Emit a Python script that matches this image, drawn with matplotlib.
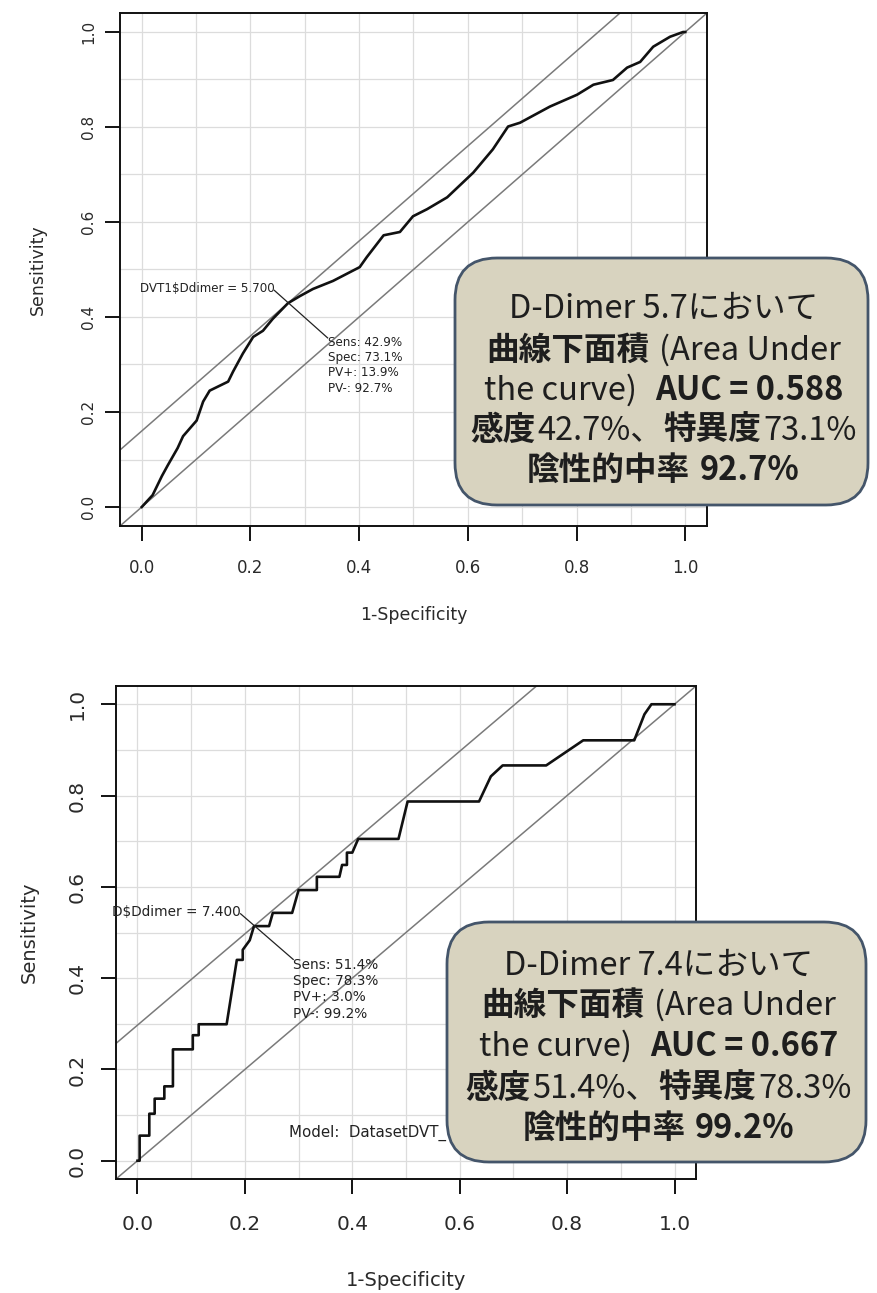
import matplotlib
matplotlib.use("Agg")
import numpy as np
import matplotlib.pyplot as plt
from matplotlib.patches import FancyBboxPatch
from matplotlib.transforms import IdentityTransform

# ROC 1 (D-Dimer, DVT1)
roc1_fpr = [0, 0.020, 0.037, 0.048, 0.066, 0.076, 0.101, 0.113, 0.125, 0.159, 0.168,
            0.186, 0.205, 0.223, 0.241, 0.269, 0.291, 0.315, 0.352, 0.401, 0.414,
            0.445, 0.475, 0.499, 0.525, 0.562, 0.610, 0.646, 0.674, 0.696, 0.751,
            0.801, 0.831, 0.867, 0.893, 0.917, 0.941, 0.972, 0.996, 1.0]
roc1_tpr = [0, 0.025, 0.065, 0.088, 0.124, 0.149, 0.182, 0.222, 0.245, 0.264, 0.285,
            0.323, 0.358, 0.371, 0.396, 0.429, 0.444, 0.459, 0.476, 0.505, 0.526,
            0.572, 0.579, 0.612, 0.627, 0.652, 0.704, 0.753, 0.801, 0.809, 0.843,
            0.868, 0.889, 0.899, 0.925, 0.937, 0.969, 0.990, 1.0, 1.0]
roc1_sens, roc1_spec = 0.429, 0.731
roc1_cut = "DVT1$Ddimer = 5.700"
roc1_stats = "Sens: 42.9%\nSpec: 73.1%\nPV+: 13.9%\nPV-: 92.7%"
roc1_hidden = "Area under the curve: 0.588"

# ROC 2 (D-Dimer, DatasetDVT_D)
roc2_fpr = [0, 0.004, 0.004, 0.022, 0.022, 0.032, 0.032, 0.050, 0.050, 0.066, 0.066,
            0.103, 0.103, 0.114, 0.114, 0.166, 0.185, 0.196, 0.196, 0.209, 0.217,
            0.245, 0.252, 0.288, 0.300, 0.334, 0.334, 0.376, 0.381, 0.390, 0.390,
            0.400, 0.411, 0.486, 0.503, 0.636, 0.658, 0.680, 0.761, 0.830, 0.925,
            0.944, 0.957, 1.0]
roc2_tpr = [0, 0, 0.055, 0.055, 0.103, 0.103, 0.136, 0.136, 0.163, 0.163, 0.244,
            0.244, 0.275, 0.275, 0.299, 0.299, 0.440, 0.440, 0.462, 0.483, 0.514,
            0.514, 0.543, 0.543, 0.593, 0.593, 0.622, 0.622, 0.648, 0.648, 0.675,
            0.675, 0.705, 0.705, 0.787, 0.787, 0.842, 0.866, 0.866, 0.921, 0.921,
            0.978, 1.0, 1.0]
roc2_sens, roc2_spec = 0.514, 0.783
roc2_cut = "D$Ddimer = 7.400"
roc2_stats = "Sens: 51.4%\nSpec: 78.3%\nPV+: 3.0%\nPV-: 99.2%"
roc2_model = "Model:  DatasetDVT_"

ticks = [0.0, 0.2, 0.4, 0.6, 0.8, 1.0]
tick_labels = ["0.0", "0.2", "0.4", "0.6", "0.8", "1.0"]

# text in the callout boxes: (text, bold, gap before in em)
box1_lines = [
    [("D-Dimer 5.7において", False, 0)],
    [("曲線下面積", True, 0), ("(Area Under", False, 0.3)],
    [("the curve)", False, 0), ("AUC = 0.588", True, 0.55)],
    [("感度", True, 0), ("42.7%、", False, 0.06), ("特異度", True, 0.0), ("73.1%", False, 0.06)],
    [("陰性的中率", True, 0), ("92.7%", True, 0.3)],
]
box2_lines = [
    [("D-Dimer 7.4において", False, 0)],
    [("曲線下面積", True, 0), ("(Area Under", False, 0.3)],
    [("the curve)", False, 0), ("AUC = 0.667", True, 0.55)],
    [("感度", True, 0), ("51.4%、", False, 0.06), ("特異度", True, 0.0), ("78.3%", False, 0.06)],
    [("陰性的中率", True, 0), ("99.2%", True, 0.3)],
]

plt.rcParams['font.family'] = ['DejaVu Sans']
JP = ['Noto Sans CJK JP', 'DejaVu Sans']

W, H = 878, 1293
fig = plt.figure(figsize=(W / 100, H / 100), dpi=100)


def roc_panel(rect, fpr, tpr, sens, spec, cut, stats, xtick_fs, ytick_fs, lab_fs,
              ann_fs, xlab_y, ylab_x, ypad, xpad):
    l, t, r, b = rect
    ax = fig.add_axes([l / W, 1 - b / H, (r - l) / W, (b - t) / H])
    ax.set_xlim(-0.04, 1.04)
    ax.set_ylim(-0.04, 1.04)
    ax.set_xticks(np.arange(0, 1.01, 0.1), minor=True)
    ax.set_yticks(np.arange(0, 1.01, 0.1), minor=True)
    ax.set_xticks(ticks)
    ax.set_yticks(ticks)
    ax.set_xticklabels(tick_labels, fontsize=xtick_fs, color='#2a2a2a')
    ax.set_yticklabels(tick_labels, fontsize=ytick_fs, color='#2a2a2a',
                       rotation=90, va='center')
    ax.grid(True, which='both', color='#dcdcdc', linewidth=0.9)
    ax.set_axisbelow(True)
    ax.tick_params(which='minor', length=0)
    ax.tick_params(axis='x', which='major', length=11, width=1.3, pad=xpad)
    ax.tick_params(axis='y', which='major', length=11, width=1.3, pad=ypad)
    for s in ax.spines.values():
        s.set_linewidth(1.4)
        s.set_color('#111111')

    fx = 1 - spec
    ax.axline((0, 0), slope=1, color='#7a7a7a', linewidth=1.1)
    ax.axline((fx, sens), slope=1, color='#7a7a7a', linewidth=1.1)
    ax.plot(fpr, tpr, color='#111111', linewidth=1.9)

    x0, y0 = fx - 0.025, sens + 0.027
    x1, y1 = fx + 0.073, sens - 0.073
    ax.plot([x0, x1], [y0, y1], color='#222222', linewidth=0.9)
    ax.text(x0, y0 + 0.003, cut, ha='right', va='center', fontsize=ann_fs,
            color='#222222')
    ax.text(x1, y1 + 0.004, stats, ha='left', va='top', fontsize=ann_fs,
            color='#222222', linespacing=1.22)

    ax.set_xlabel("1-Specificity", fontsize=lab_fs, color='#2a2a2a')
    ax.set_ylabel("Sensitivity", fontsize=lab_fs, color='#2a2a2a')
    ax.xaxis.set_label_coords(0.5, xlab_y)
    ax.yaxis.set_label_coords(ylab_x, 0.5)
    ax.xaxis.label.set_va('center')
    ax.yaxis.label.set_va('center')
    return ax


def callout(box, lines, ys, size):
    l, t, r, b = box
    patch = FancyBboxPatch((l, H - b), r - l, b - t,
                           boxstyle="round,pad=0,rounding_size=42",
                           transform=IdentityTransform(), facecolor='#d8d3bf',
                           edgecolor='#44556a', linewidth=2.0, zorder=5)
    fig.add_artist(patch)
    rend = fig.canvas.get_renderer()
    em = size * 100 / 72
    cx = (l + r) / 2 + 2
    for parts, yc in zip(lines, ys):
        arts, gaps = [], []
        for s, bold, gap in parts:
            tx = fig.text(0, H - yc, s, transform=IdentityTransform(),
                          fontsize=size, family=JP,
                          fontweight='bold' if bold else 'normal',
                          ha='left', va='center_baseline',
                          color='#1e1e1e', zorder=6)
            arts.append(tx)
            gaps.append(gap * em)
        widths = [a.get_window_extent(rend).width for a in arts]
        x = cx - (sum(widths) + sum(gaps)) / 2
        for a, w, g in zip(arts, widths, gaps):
            x += g
            a.set_x(x)
            x += w


ax1 = roc_panel((120, 13, 707, 526), roc1_fpr, roc1_tpr, roc1_sens, roc1_spec,
                roc1_cut, roc1_stats, xtick_fs=12, ytick_fs=11, lab_fs=12.5,
                ann_fs=8.6, xlab_y=-0.174, ylab_x=-0.14, ypad=6, xpad=13)
ax1.text(0.668, 0.015, roc1_hidden, ha='left', va='center', fontsize=8.6,
         color='#222222')

ax2 = roc_panel((116, 686, 696, 1179), roc2_fpr, roc2_tpr, roc2_sens, roc2_spec,
                roc2_cut, roc2_stats, xtick_fs=14.5, ytick_fs=14.5, lab_fs=14,
                ann_fs=9.8, xlab_y=-0.205, ylab_x=-0.15, ypad=10, xpad=15)
ax2.text(0.282, 0.062, roc2_model, ha='left', va='center', fontsize=10.8,
         color='#222222')

callout((455, 258, 868, 505), box1_lines, [305, 347, 387, 427, 467], 23.5)
callout((447, 922, 866, 1162), box2_lines, [962, 1002, 1043, 1085, 1125], 23.5)

fig.savefig("out.png", dpi=100)
